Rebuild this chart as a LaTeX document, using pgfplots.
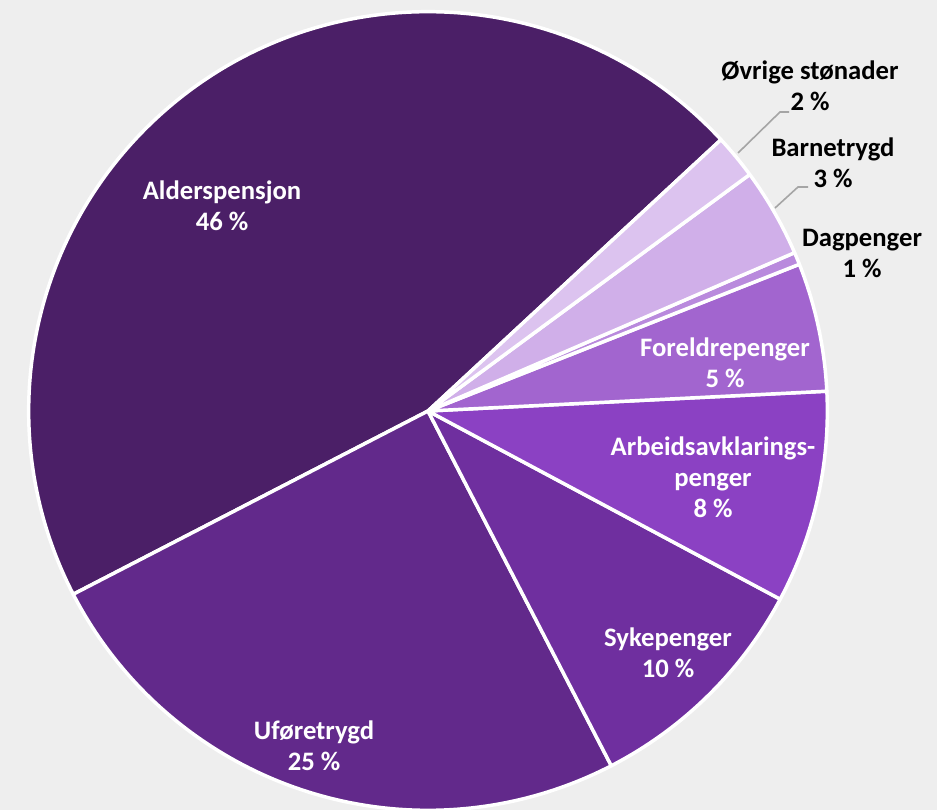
\documentclass[border=0pt]{standalone}
\usepackage{pgfplots}
\pgfplotsset{compat=1.18}
\usepackage{pgfplotstable}
\usepackage{fontspec}
\setmainfont{Carlito}
\definecolor{bgc}{HTML}{EEEEEE}
\definecolor{c0}{HTML}{4B1F67}
\definecolor{c1}{HTML}{62298B}
\definecolor{c2}{HTML}{6F2F9F}
\definecolor{c3}{HTML}{8B41C3}
\definecolor{c4}{HTML}{A265CF}
\definecolor{c5}{HTML}{B98ADD}
\definecolor{c6}{HTML}{D0AFE9}
\definecolor{c7}{HTML}{DCC3EF}
\definecolor{leader}{HTML}{A5A5A5}
\pgfplotstableread{
name value
Alderspensjon 45.7
Uforetrygd 25.0
Sykepenger 9.6
AAP 8.6
Foreldrepenger 5.2
Dagpenger 0.5
Barnetrygd 3.6
Ovrige 1.8
}\piedata
\begin{document}
\begin{tikzpicture}
\xdef\cum{42.8}
\foreach \i in {0,...,7}{
  \pgfplotstablegetelem{\i}{value}\of\piedata
  \pgfmathsetmacro\s{\cum}
  \pgfmathsetmacro\e{\cum+3.6*\pgfplotsretval}
  \global\expandafter\let\csname sa\i\endcsname\s
  \global\expandafter\let\csname ea\i\endcsname\e
  \xdef\cum{\e}
}
\begin{axis}[hide axis, scale only axis, width=702.75pt, height=607.5pt,
  xmin=0, xmax=937, ymin=0, ymax=810, clip=false]
\fill[bgc] (axis cs:0,0) rectangle (axis cs:937,810);
\coordinate (ll) at (axis cs:0,0);
\coordinate (ur) at (axis cs:937,810);
\pgfplotsinvokeforeach{0,...,7}{
  \filldraw[fill=c#1, draw=white, line width=2.6pt, line join=round]
    (axis cs:428,399) -- ++({\csname sa#1\endcsname}:299.5pt)
    arc[start angle={\csname sa#1\endcsname}, end angle={\csname ea#1\endcsname}, radius=299.5pt] -- cycle;
}
\addplot[leader, line width=1.2pt, no markers] coordinates {(738,657) (780,698) (789,698)};
\addplot[leader, line width=1.2pt, no markers] coordinates {(775,602) (798,623) (808,623)};
\tikzset{lab/.style={font=\bfseries\fontsize{20}{23.25}\selectfont, align=center, inner sep=0pt}}
\node[lab, white] at (axis cs:222,604) {Alderspensjon\\46 \%};
\node[lab, white] at (axis cs:314,64) {Uføretrygd\\25 \%};
\node[lab, white] at (axis cs:668,157) {Sykepenger\\10 \%};
\node[lab, white] at (axis cs:713,333) {Arbeidsavklarings-\\penger\\8 \%};
\node[lab, white] at (axis cs:725,447) {Foreldrepenger\\5 \%};
\node[lab, black] at (axis cs:862,557) {Dagpenger\\1 \%};
\node[lab, black] at (axis cs:833,647) {Barnetrygd\\3 \%};
\node[lab, black] at (axis cs:810,724) {Øvrige stønader\\2 \%};
\end{axis}
\pgfresetboundingbox
\path[use as bounding box] (ll) rectangle (ur);
\end{tikzpicture}
\end{document}
